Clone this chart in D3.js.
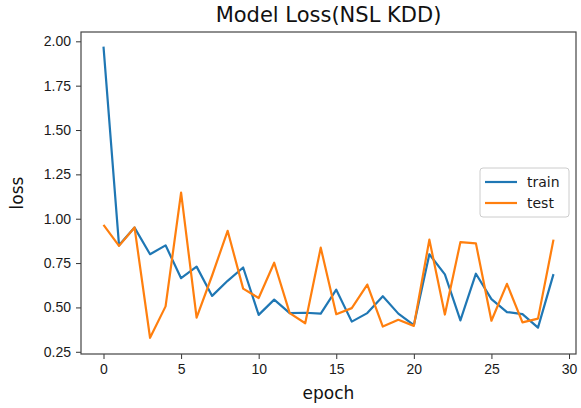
<!DOCTYPE html>
<html>
<head>
<meta charset="utf-8">
<script src="https://cdn.jsdelivr.net/npm/d3@7/dist/d3.min.js"></script>
<style>
  html, body { margin: 0; padding: 0; background: #fff; }
  svg { display: block; font-family: "DejaVu Sans", sans-serif; }
</style>
</head>
<body>
<svg id="chart" width="581" height="408"></svg>
<script>
// Loss per epoch for the NSL KDD model
const epochs = d3.range(0, 30);
const trainLoss = [1.97, 0.85, 0.95, 0.80, 0.85, 0.665, 0.73, 0.565, 0.65, 0.725,
                   0.458, 0.544, 0.468, 0.47, 0.465, 0.60, 0.42, 0.468, 0.563, 0.465,
                   0.40, 0.80, 0.686, 0.427, 0.69, 0.547, 0.474, 0.462, 0.386, 0.688];
const testLoss = [0.965, 0.847, 0.951, 0.329, 0.506, 1.147, 0.443, 0.68, 0.932, 0.606,
                  0.553, 0.752, 0.468, 0.411, 0.837, 0.462, 0.496, 0.629, 0.392, 0.43,
                  0.396, 0.882, 0.46, 0.868, 0.861, 0.425, 0.633, 0.416, 0.437, 0.882];
const xTicks = [0, 5, 10, 15, 20, 25, 30];
const yTicks = [0.25, 0.50, 0.75, 1.00, 1.25, 1.50, 1.75, 2.00];
const seriesNames = ["train", "test"];
const seriesColors = ["#1f77b4", "#ff7f0e"];

const svg = d3.select("#chart");
const box = { left: 81, right: 576, top: 32, bottom: 354 };

const x = d3.scaleLinear().domain([-1.45, 30.45]).range([box.left, box.right]);
const y = d3.scaleLinear().domain([0.2375, 2.0525]).range([box.bottom, box.top]);

// axes
const xAxis = d3.axisBottom(x).tickValues(xTicks).tickFormat(d3.format("d"))
  .tickSize(5).tickSizeOuter(0).tickPadding(5);
const yAxis = d3.axisLeft(y).tickValues(yTicks).tickFormat(d3.format(".2f"))
  .tickSize(5).tickSizeOuter(0).tickPadding(5);

const gx = svg.append("g").attr("transform", `translate(0,${box.bottom})`).call(xAxis);
const gy = svg.append("g").attr("transform", `translate(${box.left},0)`).call(yAxis);
[gx, gy].forEach(g => {
  g.select(".domain").remove();
  g.selectAll(".tick line").attr("stroke", "#333").attr("stroke-width", 1);
  g.selectAll(".tick text").attr("fill", "#1a1a1a").style("font-size", "14px");
});

// series lines
const line = d3.line().x((d, i) => x(epochs[i])).y(d => y(d));
[trainLoss, testLoss].forEach((vals, k) => {
  svg.append("path")
    .datum(vals)
    .attr("fill", "none")
    .attr("stroke", seriesColors[k])
    .attr("stroke-width", 2.2)
    .attr("stroke-linejoin", "round")
    .attr("d", line);
});

// frame
svg.append("rect")
  .attr("x", box.left).attr("y", box.top)
  .attr("width", box.right - box.left).attr("height", box.bottom - box.top)
  .attr("fill", "none").attr("stroke", "#444").attr("stroke-width", 1.2);

// title and axis labels
svg.append("text").attr("x", (box.left + box.right) / 2).attr("y", 22)
  .attr("text-anchor", "middle").attr("fill", "#111").style("font-size", "21px")
  .text("Model Loss(NSL KDD)");
svg.append("text").attr("x", (box.left + box.right) / 2).attr("y", 399)
  .attr("text-anchor", "middle").attr("fill", "#111").style("font-size", "17px")
  .text("epoch");
svg.append("text")
  .attr("transform", `translate(23,${(box.top + box.bottom) / 2}) rotate(-90)`)
  .attr("text-anchor", "middle").attr("fill", "#111").style("font-size", "17px")
  .text("loss");

// legend
const lg = svg.append("g").attr("transform", "translate(480,168)");
lg.append("rect").attr("width", 89).attr("height", 49).attr("rx", 3)
  .attr("fill", "#fff").attr("fill-opacity", 0.85)
  .attr("stroke", "#ccc").attr("stroke-width", 1);
seriesNames.forEach((name, i) => {
  const yy = 14 + i * 21;
  lg.append("line").attr("x1", 5).attr("x2", 37).attr("y1", yy).attr("y2", yy)
    .attr("stroke", seriesColors[i]).attr("stroke-width", 2.2);
  lg.append("text").attr("x", 47).attr("y", yy).attr("dy", "0.35em")
    .attr("fill", "#1a1a1a").style("font-size", "14px").text(name);
});
</script>
</body>
</html>
